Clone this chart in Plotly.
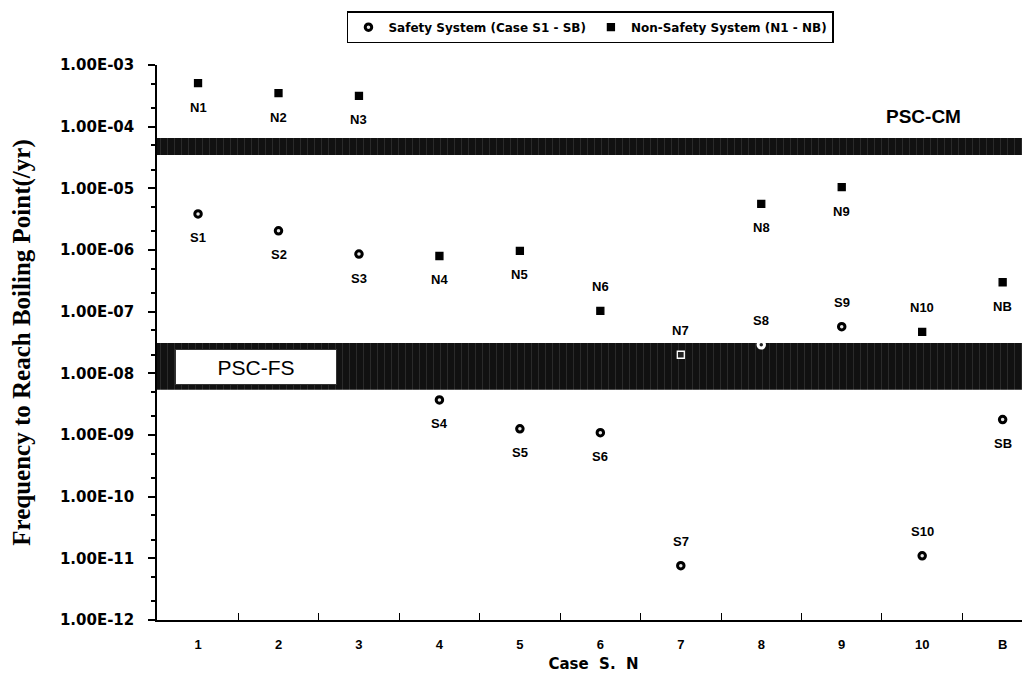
import math
import plotly.graph_objects as go

# ---- data ----
categories = ["1", "2", "3", "4", "5", "6", "7", "8", "9", "10", "B"]
safety_labels = ["S1", "S2", "S3", "S4", "S5", "S6", "S7", "S8", "S9", "S10", "SB"]
safety_values = [3.85e-6, 2.05e-6, 8.6e-7, 3.7e-9, 1.26e-9, 1.09e-9, 7.6e-12, 2.9e-8, 5.7e-8, 1.1e-11, 1.78e-9]
nonsafety_labels = ["N1", "N2", "N3", "N4", "N5", "N6", "N7", "N8", "N9", "N10", "NB"]
nonsafety_values = [5.1e-4, 3.5e-4, 3.15e-4, 8.0e-7, 9.7e-7, 1.03e-7, 2.0e-8, 5.6e-6, 1.05e-5, 4.7e-8, 3.0e-7]
psc_cm_band = [3.47e-5, 6.56e-5]   # PSC-CM range
psc_fs_band = [5.4e-9, 3.1e-8]     # PSC-FS range
y_tick_exponents = [-3, -4, -5, -6, -7, -8, -9, -10, -11, -12]

# ---- layout config ----
s_label_side = ["below"] * 6 + ["above"] * 4 + ["below"]
n_label_side = ["below"] * 5 + ["above", "above", "below", "below", "above", "below"]
x_range = [0.49, 11.34]
xs = list(range(1, len(categories) + 1))

fig = go.Figure()

# bands
for band in (psc_cm_band, psc_fs_band):
    fig.add_trace(go.Scatter(
        x=[x_range[0], x_range[1], x_range[1], x_range[0], x_range[0]],
        y=[band[0], band[0], band[1], band[1], band[0]],
        mode="lines", fill="toself", line=dict(width=0),
        fillcolor="#111111",
        fillpattern=dict(shape="|", fgcolor="#6a6a6a", bgcolor="#111111", size=7, solidity=0.08),
        hoverinfo="skip", showlegend=False))

def in_fs(v):
    return psc_fs_band[0] <= v <= psc_fs_band[1] * 1.05

# safety system markers
fig.add_trace(go.Scatter(
    x=xs, y=safety_values, mode="markers",
    name="<b>Safety System (Case S1 - SB)</b>",
    marker=dict(symbol="circle", size=6.5,
                color=["#222" if in_fs(v) else "#e8e8e8" for v in safety_values],
                line=dict(color=["white" if in_fs(v) else "black" for v in safety_values], width=3))))

# non-safety system markers
fig.add_trace(go.Scatter(
    x=xs, y=nonsafety_values, mode="markers",
    name="<b>Non-Safety System (N1 - NB)</b>",
    marker=dict(symbol="square", size=7,
                color=["#222" if in_fs(v) else "black" for v in nonsafety_values],
                line=dict(color=["white" if in_fs(v) else "black" for v in nonsafety_values], width=1.3))))

annotations = []
label_font = dict(family="Liberation Sans, Arial", size=13, color="black")
for labels, values, sides in ((safety_labels, safety_values, s_label_side),
                              (nonsafety_labels, nonsafety_values, n_label_side)):
    for x, lab, v, side in zip(xs, labels, values, sides):
        annotations.append(dict(
            x=x, y=math.log10(v), xref="x", yref="y", text="<b>%s</b>" % lab,
            showarrow=False, font=label_font,
            yshift=-24 if side == "below" else 24))

annotations.append(dict(
    x=0.113, y=0.456, xref="paper", yref="paper", text="PSC-FS", showarrow=False,
    font=dict(family="Liberation Sans, Arial", size=21, color="black"),
    bgcolor="white", bordercolor="#333", borderwidth=1, width=158, height=32,
    xanchor="center", yanchor="middle"))
annotations.append(dict(
    x=0.878, y=0.907, xref="paper", yref="paper", text="<b>PSC-CM</b>", showarrow=False,
    font=dict(family="Liberation Sans, Arial", size=19, color="black"),
    xanchor="center", yanchor="middle"))

# page body has an 8px margin, so the figure is sized to fit the window
fig.update_layout(
    width=1022, height=665,
    margin=dict(l=149, r=0, t=57, b=53, autoexpand=False),
    paper_bgcolor="white", plot_bgcolor="white",
    annotations=annotations,
    legend=dict(orientation="h", x=0.2176, xanchor="left", y=1.097, yanchor="top",
                bordercolor="black", borderwidth=1.5, bgcolor="white",
                font=dict(family="DejaVu Sans", size=12, color="black"),
                itemwidth=30, tracegroupgap=0),
    xaxis=dict(range=x_range, tickvals=xs, ticktext=["<b>%s</b>" % c for c in categories],
               ticks="", showline=True, linecolor="black", linewidth=1.5,
               showgrid=False, zeroline=False, automargin=False, ticklabelstandoff=12,
               tickfont=dict(family="Liberation Sans, Arial", size=13, color="black"),
               minor=dict(tickvals=[x + 0.5 for x in xs[:-1]], ticks="inside", ticklen=7,
                          tickcolor="black", tickwidth=1.2),
               title=dict(text="<b>Case  S.  N</b>", standoff=11,
                          font=dict(family="DejaVu Sans", size=15, color="black"))),
    yaxis=dict(type="log", range=[-12, -3],
               tickvals=[10 ** e for e in y_tick_exponents],
               ticktext=["<b>1.00E-%02d</b>" % (-e) for e in y_tick_exponents],
               ticks="outside", ticklen=7, tickwidth=1.5, tickcolor="black",
               showline=True, linecolor="black", linewidth=1.5,
               showgrid=False, zeroline=False, automargin=False, ticklabelstandoff=11,
               minor=dict(ticks="outside", ticklen=4, tickcolor="black", showgrid=False),
               tickfont=dict(family="DejaVu Sans", size=15, color="black"),
               title=dict(text="<b>Frequency to Reach Boiling Point(/yr)</b>", standoff=32,
                          font=dict(family="Liberation Serif, Times New Roman", size=25, color="black"))),
)

fig.write_html("out.html")
